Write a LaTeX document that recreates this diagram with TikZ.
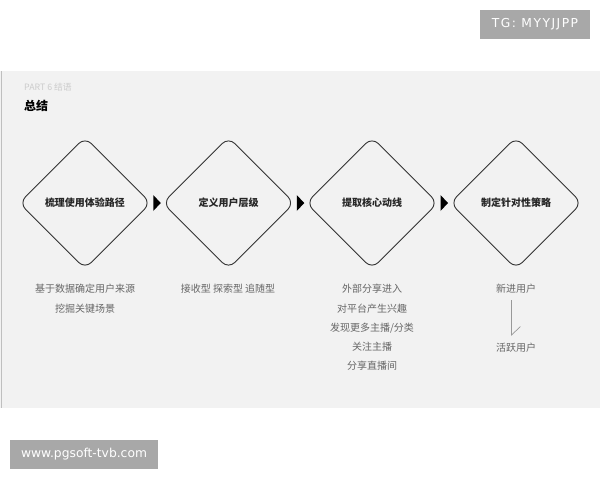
\documentclass[tikz,border=0pt]{standalone}
\usepackage{fontspec}
\setmainfont{Noto Sans CJK SC}
\newfontfamily\badgefont{DejaVu Sans}
\newfontfamily\tgfont[LetterSpace=12]{DejaVu Sans}
\usetikzlibrary{shapes.geometric,calc}
\definecolor{panel}{HTML}{F2F2F2}
\definecolor{badge}{HTML}{A8A8A8}
\definecolor{edge}{HTML}{333333}
\definecolor{subtxt}{HTML}{666666}
\begin{document}
\begin{tikzpicture}[x=1pt,y=-1pt,
  dia/.style={diamond,draw=edge,line width=0.9pt,rounded corners=9pt,minimum width=132pt,minimum height=132pt,inner sep=0pt,font=\fontsize{10}{12}\selectfont\bfseries,text=black!85},
  sub/.style={font=\fontsize{10}{12}\selectfont,text=subtxt,inner sep=0pt},
  badgebox/.style={fill=badge,text=white,inner sep=0pt},
  tri/.style={fill=black}]
\useasboundingbox (0,0) rectangle (600,480);
\fill[white] (0,0) rectangle (600,480);
\fill[panel] (0,71) rectangle (600,408);
\draw[black!25,line width=0.8pt] (1.5,71) -- (1.5,408);
% badges
\node[badgebox,minimum width=110pt,minimum height=29pt,font=\tgfont\fontsize{12.3}{14}\selectfont] (tg) at (535,24.5) {TG: MYYJJPP};
\node[badgebox,minimum width=148pt,minimum height=29pt,font=\badgefont\fontsize{12.3}{14}\selectfont] (www) at (84,454.5) {www.pgsoft-tvb.com};
% header
\node[anchor=west,inner sep=0pt,font=\fontsize{8.8}{10}\selectfont,text=black!20] (part) at (24,87) {PART 6 结语};
\node[anchor=west,inner sep=0pt,font=\fontsize{12}{14}\selectfont\bfseries] (title) at (24,106) {总结};
% diamonds
\node[dia] (d1) at (85,203) {梳理使用体验路径};
\node[dia] (d2) at (228.5,203) {定义用户层级};
\node[dia] (d3) at (372,203) {提取核心动线};
\node[dia] (d4) at (516,203) {制定针对性策略};
% arrows
\foreach \a/\b in {d1/d2,d2/d3,d3/d4}{
  \fill[tri] ($(\a.east)!0.5!(\b.west)$) ++(-3.5,-8) -- ++(7.5,8) -- ++(-7.5,8) -- cycle;
}
% sub texts
\node[sub] (s11) at (85,289) {基于数据确定用户来源};
\node[sub] (s12) at (85,309) {挖掘关键场景};
\node[sub] (s21) at (228,289) {接收型 探索型 追随型};
\node[sub] (s31) at (372,289) {外部分享进入};
\node[sub] (s32) at (372,309) {对平台产生兴趣};
\node[sub] (s33) at (372,328) {发现更多主播/分类};
\node[sub] (s34) at (372,347) {关注主播};
\node[sub] (s35) at (372,366) {分享直播间};
\node[sub] (s41) at (516,289) {新进用户};
\node[sub] (s42) at (516,348) {活跃用户};
\coordinate (ltop) at (511.5,300);
\coordinate (lbot) at (511.5,335);
\coordinate (ltip) at (520.5,326.5);
\draw[black!40,line width=0.7pt] (ltop) -- (lbot) -- (ltip);
\end{tikzpicture}
\end{document}
